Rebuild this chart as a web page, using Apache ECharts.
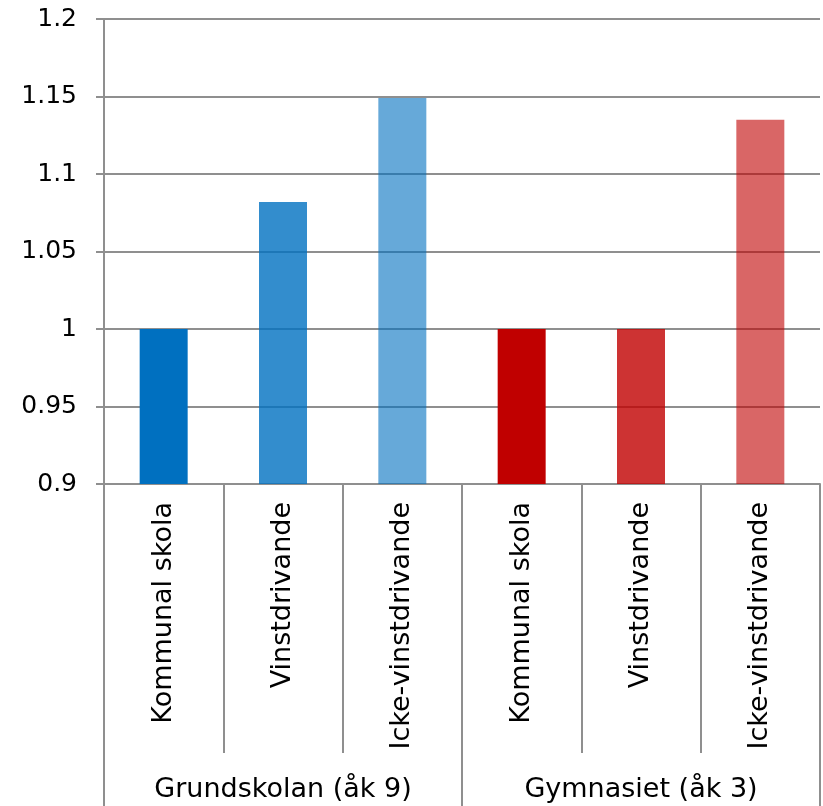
<!DOCTYPE html>
<html>
<head>
<meta charset="utf-8">
<script src="https://cdn.jsdelivr.net/npm/echarts@6/dist/echarts.min.js"></script>
<style>
  html, body { margin: 0; padding: 0; background: #fff; }
  #chart { width: 823px; height: 806px; }
</style>
</head>
<body>
<div id="chart"></div>
<script>
// data
const categories = ['Kommunal skola', 'Vinstdrivande', 'Icke-vinstdrivande',
                    'Kommunal skola', 'Vinstdrivande', 'Icke-vinstdrivande']
const groups = ['Grundskolan (åk 9)', 'Gymnasiet (åk 3)']
const values = [1.0, 1.082, 1.149, 1.0, 1.0, 1.135]

const barColors = [
    '#0070c0', 'rgba(0,112,192,0.8)', 'rgba(0,112,192,0.6)',
    '#c00000', 'rgba(192,0,0,0.8)', 'rgba(192,0,0,0.6)'
]

const font = 'DejaVu Sans'
const lineColor = '#8f8f8f'

const chart = echarts.init(document.getElementById('chart'))
chart.setOption({
    animation: false,
    textStyle: { fontFamily: font },
    grid: { left: 104, right: 3, top: 19, bottom: 322, containLabel: false },
    xAxis: [
        {
            type: 'category',
            data: categories,
            position: 'bottom',
            axisLine: { show: true, lineStyle: { color: lineColor, width: 2 } },
            axisTick: { show: true, interval: 0, length: 269, lineStyle: { color: lineColor, width: 2 } },
            axisLabel: { interval: 0, rotate: 90, margin: 18, color: '#000', fontSize: 27, fontFamily: font }
        },
        {
            // group row under the category labels
            type: 'category',
            data: groups,
            position: 'bottom',
            offset: 0,
            axisLine: { show: false },
            axisTick: { show: true, interval: 0, length: 322, lineStyle: { color: lineColor, width: 2 } },
            axisLabel: { interval: 0, margin: 292, color: '#000', fontSize: 27, fontFamily: font }
        }
    ],
    yAxis: {
        type: 'value',
        min: 0.9,
        max: 1.2,
        interval: 0.05,
        axisLine: { show: true, lineStyle: { color: lineColor, width: 2 } },
        axisTick: { show: true, length: 8, lineStyle: { color: lineColor, width: 2 } },
        splitLine: { show: true, lineStyle: { color: lineColor, width: 2 } },
        axisLabel: {
            margin: 27, color: '#000', fontSize: 25, fontFamily: font,
            formatter: v => String(+v.toFixed(2))
        }
    },
    series: [
        {
            type: 'bar',
            xAxisIndex: 0,
            barWidth: 48,
            data: values.map((v, i) => ({ value: v, itemStyle: { color: barColors[i] } }))
        }
    ]
})
</script>
</body>
</html>
